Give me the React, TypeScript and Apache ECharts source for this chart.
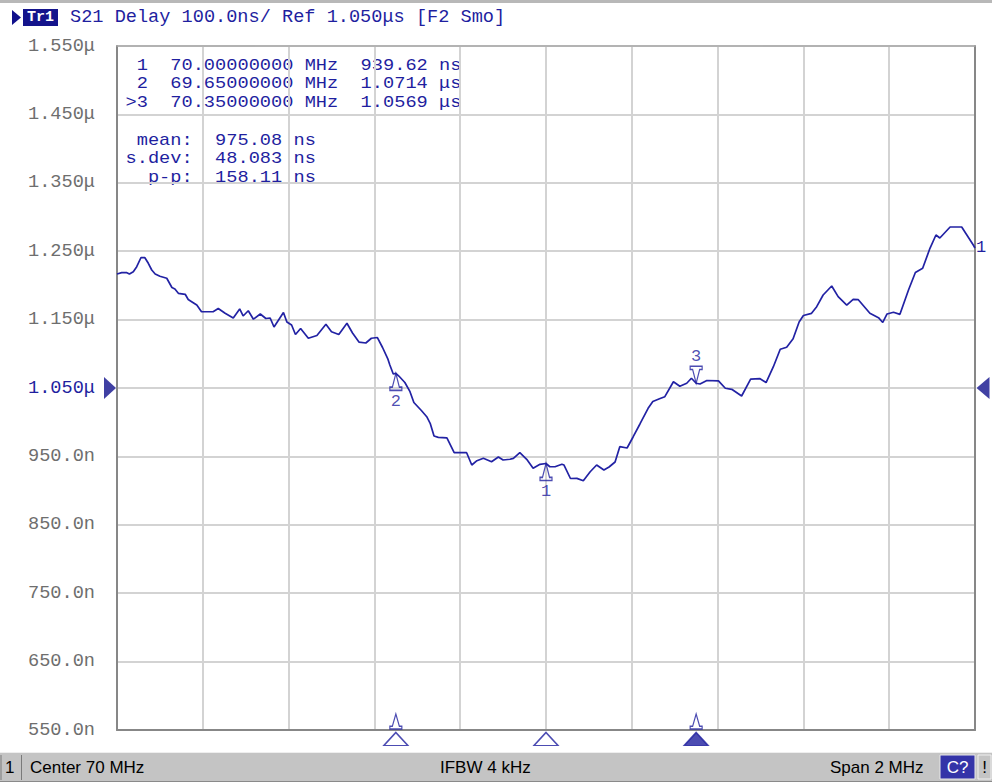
import React, { useEffect, useRef } from "react";
import * as echarts from "echarts";

// Trace: S21 group delay vs frequency
const freqMHz = [
  69.0, 69.011, 69.023, 69.029, 69.038, 69.046, 69.056, 69.065, 69.073, 69.081,
  69.089, 69.1, 69.116, 69.128, 69.135, 69.143, 69.159, 69.166, 69.174, 69.186,
  69.197, 69.224, 69.236, 69.252, 69.271, 69.286, 69.294, 69.306, 69.318, 69.334,
  69.347, 69.357, 69.366, 69.388, 69.396, 69.407, 69.416, 69.428, 69.446, 69.466,
  69.487, 69.5, 69.517, 69.536, 69.549, 69.564, 69.58, 69.593, 69.607, 69.619,
  69.631, 69.636, 69.644, 69.65, 69.657, 69.671, 69.683, 69.692, 69.71, 69.722,
  69.73, 69.739, 69.749, 69.769, 69.786, 69.815, 69.827, 69.839, 69.854, 69.873,
  69.889, 69.9, 69.916, 69.924, 69.939, 69.955, 69.97, 69.986, 70.0, 70.009,
  70.021, 70.037, 70.042, 70.057, 70.072, 70.087, 70.103, 70.118, 70.135, 70.147,
  70.161, 70.172, 70.189, 70.203, 70.219, 70.238, 70.249, 70.266, 70.277, 70.297,
  70.312, 70.328, 70.339, 70.35, 70.359, 70.375, 70.402, 70.418, 70.433, 70.456,
  70.477, 70.499, 70.513, 70.53, 70.546, 70.561, 70.576, 70.59, 70.6, 70.619,
  70.631, 70.646, 70.666, 70.681, 70.701, 70.716, 70.728, 70.755, 70.775, 70.785,
  70.795, 70.81, 70.825, 70.845, 70.861, 70.878, 70.895, 70.909, 70.918, 70.942,
  70.969, 70.981, 70.996, 71.0,
];
const delayNs = [
  1216.7, 1218.6, 1218.6, 1216.7, 1220.0, 1227.3, 1240.8, 1240.5, 1232.3, 1222.5,
  1216.7, 1213.3, 1210.4, 1196.9, 1194.7, 1188.4, 1187.0, 1179.4, 1176.2, 1171.3,
  1161.5, 1161.5, 1166.2, 1159.2, 1152.3, 1165.5, 1155.3, 1162.9, 1150.6, 1158.2,
  1151.6, 1152.3, 1139.2, 1160.4, 1146.5, 1142.1, 1128.2, 1137.0, 1122.7, 1126.8,
  1143.1, 1132.3, 1128.2, 1144.6, 1130.4, 1117.2, 1115.8, 1122.7, 1123.8, 1109.2,
  1093.1, 1083.6, 1070.5, 1071.4, 1067.5, 1058.0, 1044.6, 1028.8, 1016.7, 1008.0,
  998.4, 979.8, 977.9, 977.2, 955.4, 955.4, 937.4, 943.7, 947.2, 942.2,
  949.1, 944.7, 945.8, 947.2, 955.4, 945.8, 932.6, 938.4, 939.6, 934.9,
  934.9, 938.6, 937.4, 917.7, 917.9, 914.5, 927.6, 937.4, 930.1, 934.5,
  941.8, 964.2, 962.3, 978.4, 997.4, 1020.3, 1030.3, 1034.6, 1037.3, 1059.2,
  1052.5, 1056.9, 1064.2, 1056.9, 1055.8, 1061.0, 1060.5, 1049.6, 1048.1, 1038.3,
  1062.9, 1063.6, 1058.0, 1081.1, 1106.6, 1109.6, 1121.9, 1146.5, 1156.0, 1159.2,
  1168.9, 1186.0, 1199.1, 1183.5, 1171.3, 1179.7, 1179.1, 1159.2, 1152.8, 1145.8,
  1158.2, 1160.7, 1157.7, 1193.3, 1218.9, 1225.0, 1254.2, 1273.7, 1269.3, 1285.4,
  1285.4, 1273.7, 1259.1, 1254.7,
];

const yTickValues = [550, 650, 750, 850, 950, 1050, 1150, 1250, 1350, 1450, 1550];
const yTickLabels = [
  "550.0n", "650.0n", "750.0n", "850.0n", "950.0n",
  "1.050μ", "1.150μ", "1.250μ", "1.350μ", "1.450μ", "1.550μ",
];
const refValueNs = 1050;
const freqMin = 69;
const freqMax = 71;

const markerNames = ["1", "2", "3"];
const markerFreqMHz = [70.0, 69.65, 70.35];
const markerDelayNs = [939.62, 1071.4, 1056.9];
const activeMarker = 2;
const axisFlagMarkers = [1, 2];

const headerText = "S21 Delay 100.0ns/ Ref 1.050μs [F2 Smo]";
const markerTableRows = [
  " 1  70.00000000 MHz  939.62 ns",
  " 2  69.65000000 MHz  1.0714 μs",
  ">3  70.35000000 MHz  1.0569 μs",
];
const statsRows = [" mean:  975.08 ns", "s.dev:  48.083 ns", "  p-p:  158.11 ns"];
const statusCenter = "Center 70 MHz";
const statusIfbw = "IFBW 4 kHz";
const statusSpan = "Span 2 MHz";

const MONO = "'Liberation Mono', 'DejaVu Sans Mono', monospace";
const SANS = "'Liberation Sans', Arial, sans-serif";
const BLUE = "#1f1f9f";
const TRACE = "#2222a4";
const FS = 18.6;
const TABLE_FS = 16.2;
const TABLE_SCALE_X = 11.2 / (0.6 * TABLE_FS);

const MARKER_PATH = "path://M6 0 L9.5 13 L12 13 L12 16 L0 16 L0 13 L2.5 13 Z";

export default function App() {
  const ref = useRef<HTMLDivElement>(null);

  useEffect(() => {
    document.body.style.margin = "0";
    const chart = echarts.init(ref.current!, null, { renderer: "svg" });

    const textStyle = (extra: any) => ({
      fontFamily: MONO,
      fontSize: FS,
      fill: BLUE,
      verticalAlign: "top",
      ...extra,
    });

    const option: any = {
      animation: false,
      backgroundColor: "#ffffff",
      grid: { left: 117, right: 17, top: 46, bottom: 52, containLabel: false },
      xAxis: [
        {
          type: "value",
          min: freqMin,
          max: freqMax,
          interval: 0.2,
          axisLine: { show: true, onZero: false, lineStyle: { color: "#878787", width: 2 } },
          axisTick: { show: false },
          axisLabel: { show: false },
          splitLine: { show: true, lineStyle: { color: "#d3d3d3", width: 2 } },
        },
        {
          type: "value",
          position: "top",
          min: freqMin,
          max: freqMax,
          axisLine: { show: true, onZero: false, lineStyle: { color: "#a8a8a8", width: 1.5 } },
          axisTick: { show: false },
          axisLabel: { show: false },
          splitLine: { show: false },
        },
      ],
      yAxis: [
        {
          type: "value",
          min: 550,
          max: 1550,
          interval: 100,
          axisLine: { show: true, onZero: false, lineStyle: { color: "#878787", width: 2 } },
          axisTick: { show: false },
          axisLabel: {
            margin: 22,
            fontFamily: MONO,
            fontSize: FS,
            color: "#6e6e6e",
            formatter: (v: number) => {
              const rv = Math.round(v);
              const i = yTickValues.indexOf(rv);
              const s = i >= 0 ? yTickLabels[i] : "";
              return rv === refValueNs ? `{ref|${s}}` : s;
            },
            rich: { ref: { color: BLUE, fontFamily: MONO, fontSize: FS } },
          },
          splitLine: { show: true, lineStyle: { color: "#d3d3d3", width: 2 } },
        },
        {
          type: "value",
          position: "right",
          min: 550,
          max: 1550,
          axisLine: { show: true, onZero: false, lineStyle: { color: "#878787", width: 2 } },
          axisTick: { show: false },
          axisLabel: { show: false },
          splitLine: { show: false },
        },
      ],
      series: [
        {
          type: "line",
          data: freqMHz.map((f, i) => [f, delayNs[i]]),
          showSymbol: false,
          symbol: "none",
          lineStyle: { color: TRACE, width: 1.7 },
          z: 3,
          endLabel: {
            show: true,
            formatter: "1",
            color: BLUE,
            fontFamily: MONO,
            fontSize: 17,
            distance: 1,
          },
        },
        {
          type: "scatter",
          clip: false,
          silent: true,
          z: 4,
          symbol: MARKER_PATH,
          symbolSize: [12, 17],
          itemStyle: { color: "rgba(255,255,255,0)", borderColor: BLUE, borderWidth: 1.4 },
          data: markerFreqMHz.map((f, i) => {
            const active = i === activeMarker;
            return {
              value: [f, markerDelayNs[i]],
              symbolRotate: active ? 180 : 0,
              symbolOffset: [0, active ? "-50%" : "50%"],
              label: {
                show: true,
                position: active ? "top" : "bottom",
                distance: active ? 0 : 2,
                formatter: markerNames[i],
                color: BLUE,
                fontFamily: MONO,
                fontSize: 17,
              },
            };
          }),
        },
        {
          type: "scatter",
          clip: false,
          silent: true,
          z: 4,
          symbol: "path://M12 0 L24 13 L0 13 Z",
          symbolSize: [24, 13],
          symbolOffset: [0, 9],
          data: markerFreqMHz.map((f, i) => ({
            value: [f, 550],
            itemStyle: {
              color: i === activeMarker ? BLUE : "#ffffff",
              borderColor: BLUE,
              borderWidth: 1.4,
            },
          })),
        },
        {
          type: "scatter",
          clip: false,
          silent: true,
          z: 4,
          symbol: MARKER_PATH,
          symbolSize: [12, 15],
          symbolOffset: [0, -8.5],
          itemStyle: { color: "#ffffff", borderColor: BLUE, borderWidth: 1.3 },
          data: axisFlagMarkers.map((m) => [markerFreqMHz[m], 550]),
        },
        {
          type: "scatter",
          clip: false,
          silent: true,
          z: 4,
          symbol: "path://M0 0 L12 11 L0 22 Z",
          symbolSize: [12, 22],
          symbolOffset: [-7, 0],
          itemStyle: { color: "#10108c" },
          data: [[freqMin, refValueNs]],
        },
        {
          type: "scatter",
          clip: false,
          silent: true,
          z: 4,
          symbol: "path://M12 0 L0 11 L12 22 Z",
          symbolSize: [13, 22],
          symbolOffset: [8, 0],
          itemStyle: { color: "#10108c" },
          data: [[freqMax, refValueNs]],
        },
      ],
      graphic: [
        // top edge
        { type: "rect", shape: { x: 0, y: 0, width: 992, height: 3 }, style: { fill: "#b8b8b8" }, silent: true },
        // header
        { type: "polygon", shape: { points: [[12, 10], [21, 17.5], [12, 25]] }, style: { fill: "#10108c" }, silent: true },
        { type: "rect", shape: { x: 23, y: 9, width: 35, height: 17 }, style: { fill: "#14148c" }, silent: true },
        {
          type: "text",
          x: 40.5,
          y: 17.5,
          style: { text: "Tr1", fontFamily: MONO, fontSize: 15, fontWeight: "bold", fill: "#ffffff", align: "center", verticalAlign: "middle" },
          silent: true,
        },
        { type: "text", x: 70, y: 17.5, style: textStyle({ text: headerText, verticalAlign: "middle" }), silent: true },
        // marker table (one multi-line block, widened to the instrument's character grid)
        {
          type: "text",
          x: 125.5,
          y: 56,
          scaleX: TABLE_SCALE_X,
          style: textStyle({ text: markerTableRows.join("\n"), fontSize: TABLE_FS, lineHeight: 18.5 }),
          silent: true,
        },
        // statistics block
        {
          type: "text",
          x: 125.5,
          y: 131,
          scaleX: TABLE_SCALE_X,
          style: textStyle({ text: statsRows.join("\n"), fontSize: TABLE_FS, lineHeight: 18.5 }),
          silent: true,
        },
        // status bar
        { type: "rect", shape: { x: 0, y: 752, width: 992, height: 30 }, style: { fill: "#c4c4c4" }, silent: true },
        { type: "line", shape: { x1: 0, y1: 752.5, x2: 992, y2: 752.5 }, style: { stroke: "#eeeeee", lineWidth: 1 }, silent: true },
        { type: "line", shape: { x1: 0, y1: 781.5, x2: 992, y2: 781.5 }, style: { stroke: "#8a8a8a", lineWidth: 1 }, silent: true },
        { type: "line", shape: { x1: 21.5, y1: 755, x2: 21.5, y2: 780 }, style: { stroke: "#7a7a7a", lineWidth: 1 }, silent: true },
        { type: "line", shape: { x1: 1, y1: 755, x2: 1, y2: 780 }, style: { stroke: "#7a7a7a", lineWidth: 1 }, silent: true },
        {
          type: "text",
          x: 5,
          y: 767,
          style: { text: "1", fontFamily: SANS, fontSize: 17, fill: "#000000", verticalAlign: "middle" },
          silent: true,
        },
        {
          type: "text",
          x: 30,
          y: 767,
          style: { text: statusCenter, fontFamily: SANS, fontSize: 17, fill: "#000000", verticalAlign: "middle" },
          silent: true,
        },
        {
          type: "text",
          x: 440,
          y: 767,
          style: { text: statusIfbw, fontFamily: SANS, fontSize: 17, fill: "#000000", verticalAlign: "middle" },
          silent: true,
        },
        {
          type: "text",
          x: 830,
          y: 767,
          style: { text: statusSpan, fontFamily: SANS, fontSize: 17, fill: "#000000", verticalAlign: "middle" },
          silent: true,
        },
        { type: "rect", shape: { x: 940, y: 755, width: 35, height: 24 }, style: { fill: "#3434a8", stroke: "#e8e8e8", lineWidth: 1 }, silent: true },
        {
          type: "text",
          x: 957.5,
          y: 767,
          style: { text: "C?", fontFamily: SANS, fontSize: 17, fill: "#ffffff", align: "center", verticalAlign: "middle" },
          silent: true,
        },
        { type: "rect", shape: { x: 978, y: 755, width: 13, height: 24 }, style: { fill: "#c4c4c4", stroke: "#f0f0f0", lineWidth: 1 }, silent: true },
        {
          type: "text",
          x: 984.5,
          y: 767,
          style: { text: "!", fontFamily: SANS, fontSize: 17, fill: "#000000", align: "center", verticalAlign: "middle" },
          silent: true,
        },
      ],
    };

    chart.setOption(option);
    return () => chart.dispose();
  }, []);

  return (
    <div
      ref={ref}
      style={{ position: "absolute", left: 0, top: 0, width: 992, height: 782, background: "#ffffff" }}
    />
  );
}
